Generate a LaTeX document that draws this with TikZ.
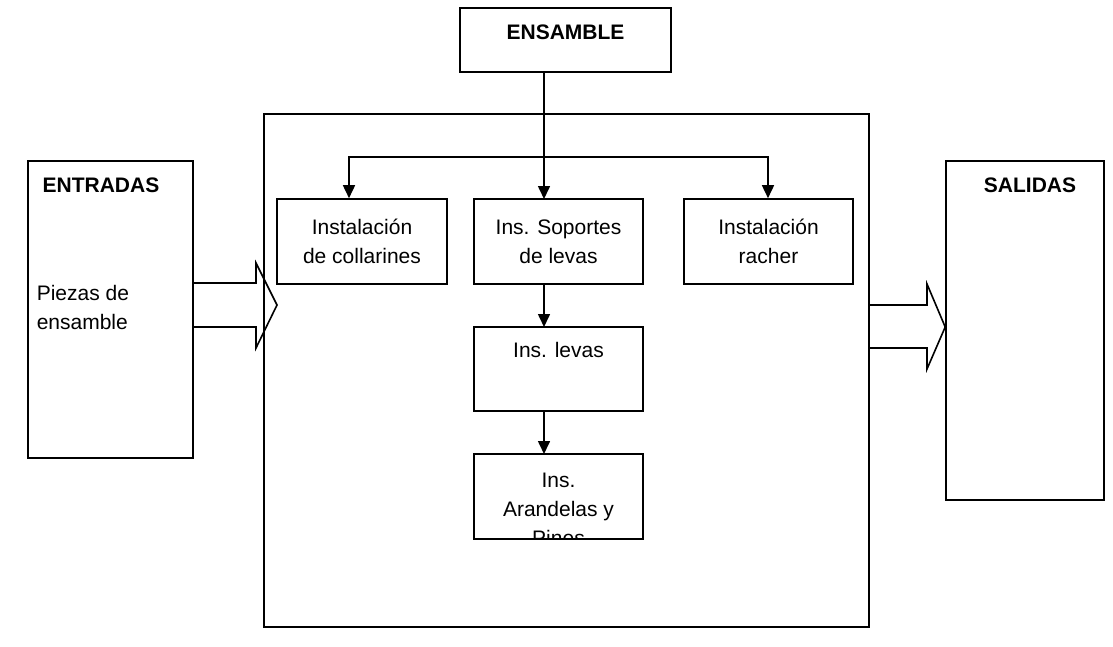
\documentclass[tikz,border=0pt]{standalone}
\usepackage{fontspec}
\setmainfont{Liberation Sans}
\usetikzlibrary{arrows.meta}
\begin{document}
\begin{tikzpicture}[x=1pt,y=-1pt,
  line width=1.6pt,
  txt/.style={font=\fontsize{21}{29}\selectfont, inner sep=0pt, align=center},
  hdr/.style={font=\fontsize{21}{29}\selectfont\bfseries, inner sep=0pt},
  box/.style={draw, rectangle, inner sep=0pt},
  flow/.style={-{Triangle[width=12pt,length=13pt]}, line width=1.6pt}]
\useasboundingbox (0,0) rectangle (1113,646);

% frames
\node[box, minimum width=211pt, minimum height=64pt] (ens) at (565.5,40) {};
\node[box, minimum width=605pt, minimum height=513pt] (main) at (566.5,370.5) {};
\node[box, minimum width=165pt, minimum height=297pt] (ent) at (110.5,309.5) {};
\node[box, minimum width=158pt, minimum height=339pt] (sal) at (1025,330.5) {};

% process steps
\node[box, minimum width=170pt, minimum height=85pt, txt] (col) at (362,241.5)
  {Instalación\\de collarines};
\node[box, minimum width=169pt, minimum height=85pt, txt] (sop) at (558.5,241.5)
  {Ins. Soportes\\de levas};
\node[box, minimum width=169pt, minimum height=85pt, txt] (rac) at (768.5,241.5)
  {Instalación\\racher};
\node[box, minimum width=169pt, minimum height=84pt] (lev) at (558.5,369) {};
\node[box, minimum width=169pt, minimum height=85pt] (ara) at (558.5,496.5) {};

% labels
\node[hdr, anchor=base] (tens) at (565.5,39) {ENSAMBLE};
\node[hdr, anchor=base] (tent) at (101,192) {ENTRADAS};
\node[hdr, anchor=base] (tsal) at (1030,192) {SALIDAS};
\node[txt, anchor=base west, align=left] (tpz) at (36,329) {Piezas de\\ensamble};
\node[txt, anchor=base] (tlev) at (558.5,357) {Ins. levas};
\begin{scope}
  \clip (ara.north west) rectangle (ara.south east);
  \node[txt, anchor=base] (tara) at (558.5,545.5) {Ins.\\Arandelas y\\Pines};
\end{scope}

% branch from ENSAMBLE
\coordinate (jl) at (349,157);
\coordinate (jr) at (768,157);
\draw[flow] (ens.south -| 544,0) -- (544,199);
\draw[flow] (jl -| jr) -- (jl) -- (jl |- col.north);
\draw[flow] (jl) -- (jr) -- (jr |- rac.north);
\draw[flow] (544,284) -- (544,327);
\draw[flow] (544,411) -- (544,454);

% block arrows in and out
\draw[line join=miter] (ent.east |- 0,283) -- (256,283) -- (256,263) -- (277,305)
  -- (256,348) -- (256,327) -- (ent.east |- 0,327);
\draw[line join=miter] (main.east |- 0,305) -- (927,305) -- (927,284) -- (sal.west |- 0,327)
  -- (927,369) -- (927,348) -- (main.east |- 0,348);
\end{tikzpicture}
\end{document}
